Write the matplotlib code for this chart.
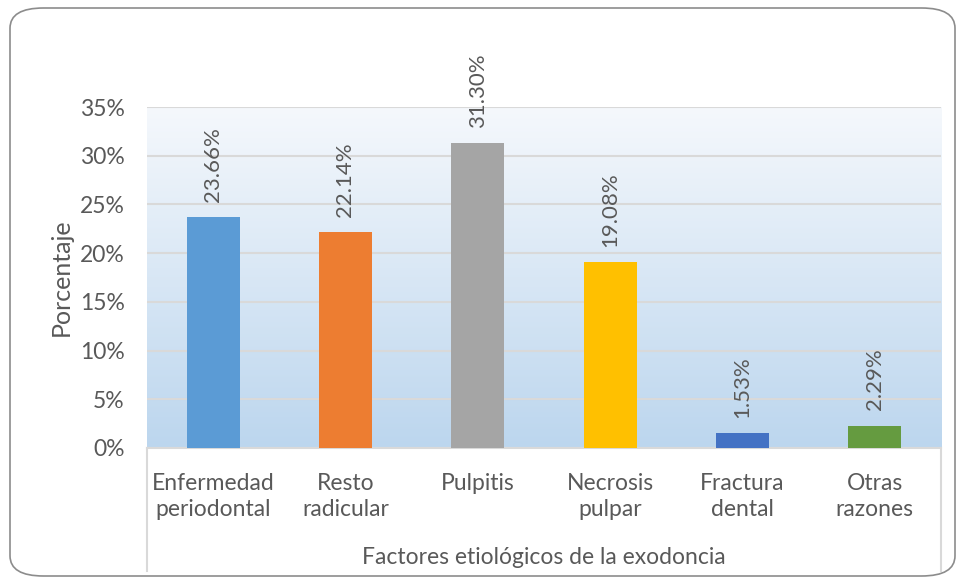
import numpy as np
import matplotlib.pyplot as plt
from matplotlib.patches import FancyBboxPatch
from matplotlib.lines import Line2D
from matplotlib.colors import LinearSegmentedColormap
from matplotlib.ticker import FuncFormatter

# datos
categorias = ['Enfermedad\nperiodontal', 'Resto\nradicular', 'Pulpitis',
              'Necrosis\npulpar', 'Fractura\ndental', 'Otras\nrazones']
porcentajes = [23.66, 22.14, 31.30, 19.08, 1.53, 2.29]
colores = ['#5B9BD5', '#ED7D31', '#A5A5A5', '#FFC000', '#4472C4', '#659B40']

plt.rcParams['font.family'] = ['Lato', 'DejaVu Sans']
gris = '#595959'

W, H = 957, 577
fig = plt.figure(figsize=(W / 100, H / 100), dpi=100)

# marco redondeado
marco = FancyBboxPatch((10 / W, 1 - 576 / H), 945 / W, 568 / H,
                       boxstyle='round,pad=0,rounding_size=0.035',
                       transform=fig.transFigure, fill=False,
                       edgecolor='#8C8C8C', linewidth=1.2)
fig.patches.append(marco)

x0, x1, y_top, y_bot = 147, 941, 107, 448
ax = fig.add_axes([x0 / W, 1 - y_bot / H, (x1 - x0) / W, (y_bot - y_top) / H])

# fondo degradado
cmap = LinearSegmentedColormap.from_list('fondo', ['#F5F8FC', '#BCD6EE'])
grad = np.linspace(0, 1, 256).reshape(-1, 1)
ax.imshow(grad, aspect='auto', cmap=cmap, extent=[0, 1, 0, 1],
          transform=ax.transAxes, zorder=0)

x = np.arange(len(categorias))
ax.bar(x, porcentajes, width=0.4, color=colores, zorder=3)
ax.set_xlim(-0.5, len(categorias) - 0.5)
ax.set_ylim(0, 35)
ax.set_yticks(np.arange(0, 36, 5))
ax.yaxis.set_major_formatter(FuncFormatter(lambda v, p: f'{v:.0f}%'))
ax.grid(axis='y', color='#D9D9D9', linewidth=1.5, zorder=1)
ax.set_axisbelow(True)

for xi, v in zip(x, porcentajes):
    ax.annotate(f'{v:.2f}%', (xi, v), xytext=(0, 11), textcoords='offset points',
                rotation=90, ha='center', va='bottom', fontsize=16, color=gris)

ax.set_xticks(x)
ax.set_xticklabels(categorias, fontsize=16.5, color=gris, linespacing=1.3)
ax.tick_params(axis='x', length=0, pad=18)
ax.tick_params(axis='y', length=0, pad=16, labelsize=16.5, labelcolor=gris)
for s in ['top', 'right', 'left']:
    ax.spines[s].set_visible(False)
ax.spines['bottom'].set_color('#D9D9D9')
ax.spines['bottom'].set_linewidth(1.5)

ax.set_ylabel('Porcentaje', fontsize=18, color=gris, labelpad=5)

# lineas del eje de categorias
for xp in (x0, x1):
    fig.add_artist(Line2D([xp / W, xp / W], [1 - y_bot / H, 1 - 571 / H],
                          transform=fig.transFigure, color='#D9D9D9', linewidth=1.5))
fig.text((x0 + x1) / 2 / W, 1 - 558 / H, 'Factores etiológicos de la exodoncia',
         ha='center', va='center', fontsize=16.5, color=gris)

fig.savefig('out.png', dpi=100)
